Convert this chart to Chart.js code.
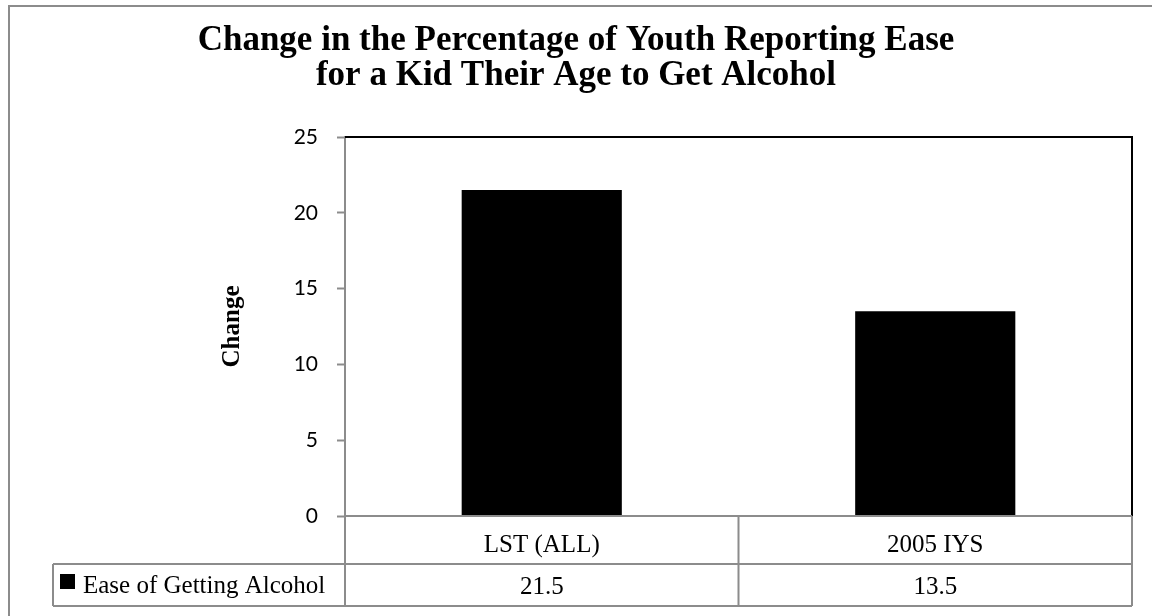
<!DOCTYPE html>
<html>
<head>
<meta charset="utf-8">
<script src="https://cdn.jsdelivr.net/npm/chart.js@4/dist/chart.umd.min.js"></script>
<style>
  html, body { margin: 0; padding: 0; background: #ffffff; }
  #wrap { width: 1152px; height: 616px; }
</style>
</head>
<body>
<div id="wrap"><canvas id="chartEase"></canvas></div>
<script>
// =========================================================
// Colors
// =========================================================
const negro = '#000000';
const gris = '#8c8c8c';

// =========================================================
// Data
// =========================================================
const categorias = ['LST (ALL)', '2005 IYS'];
const serieNombre = 'Ease of Getting Alcohol';
const valores = [21.5, 13.5];
const tituloLineas = [
  'Change in the Percentage of Youth Reporting Ease',
  'for a Kid Their Age to Get Alcohol'
];
const ejeYTitulo = 'Change';
const ejeYMax = 25;
const ejeYPaso = 5;

const serif = '"Liberation Serif", "Times New Roman", serif';

// Outer frame of the chart object (runs off the right/bottom edge)
const marcoPlugin = {
  id: 'marco',
  beforeDraw(chart) {
    const ctx = chart.ctx;
    ctx.save();
    ctx.fillStyle = '#ffffff';
    ctx.fillRect(0, 0, chart.width, chart.height);
    ctx.strokeStyle = gris;
    ctx.lineWidth = 2;
    ctx.strokeRect(9, 6, chart.width + 20, chart.height + 20);
    ctx.restore();
  }
};

// Black top/right border of the plot area + data table under the axis
const tablaPlugin = {
  id: 'tablaDatos',
  afterDraw(chart) {
    const ctx = chart.ctx;
    const area = chart.chartArea;
    const x = chart.scales.x;
    const centros = categorias.map((c, i) => x.getPixelForValue(i));
    const cortes = [area.left];
    for (let i = 0; i < centros.length - 1; i++) cortes.push((centros[i] + centros[i + 1]) / 2);
    cortes.push(area.right);

    const fila1 = area.bottom;
    const fila2 = fila1 + 48;
    const fin = fila2 + 42;
    const leyendaX = 53;

    ctx.save();
    // plot border
    ctx.strokeStyle = negro;
    ctx.lineWidth = 2;
    ctx.beginPath();
    ctx.moveTo(area.left, area.top);
    ctx.lineTo(area.right, area.top);
    ctx.lineTo(area.right, area.bottom);
    ctx.stroke();

    // table grid
    ctx.strokeStyle = gris;
    ctx.beginPath();
    ctx.moveTo(area.left, fila1); ctx.lineTo(area.right, fila1);
    ctx.moveTo(leyendaX, fila2); ctx.lineTo(area.right, fila2);
    ctx.moveTo(leyendaX, fin); ctx.lineTo(area.right, fin);
    ctx.moveTo(leyendaX, fila2); ctx.lineTo(leyendaX, fin);
    cortes.forEach(cx => { ctx.moveTo(cx, fila1); ctx.lineTo(cx, fin); });
    ctx.stroke();

    // texts
    ctx.fillStyle = negro;
    ctx.font = '25px ' + serif;
    ctx.textAlign = 'center';
    ctx.textBaseline = 'alphabetic';
    categorias.forEach((c, i) => {
      const mid = (cortes[i] + cortes[i + 1]) / 2;
      ctx.fillText(c, mid, fila1 + 36);
      ctx.fillText(String(valores[i]), mid, fila2 + 30);
    });

    // legend key in the table
    const ds = chart.data.datasets[0];
    ctx.fillStyle = ds.backgroundColor;
    ctx.fillRect(leyendaX + 7, fila2 + 10, 15, 15);
    ctx.fillStyle = negro;
    ctx.textAlign = 'left';
    ctx.fillText(ds.label, leyendaX + 30, fila2 + 29);
    ctx.restore();
  }
};

new Chart(document.getElementById('chartEase'), {
  type: 'bar',
  data: {
    labels: categorias,
    datasets: [{
      label: serieNombre,
      data: valores,
      backgroundColor: negro,
      borderWidth: 0,
      categoryPercentage: 1,
      barPercentage: 0.407
    }]
  },
  options: {
    responsive: true,
    maintainAspectRatio: false,
    animation: false,
    layout: { padding: { left: 20, right: 20, top: 0, bottom: 0 } },
    plugins: {
      legend: { display: false },
      tooltip: { enabled: false },
      title: {
        display: true,
        text: tituloLineas,
        color: negro,
        font: { family: serif, size: 35, weight: 'bold', lineHeight: 1.0 },
        padding: { top: 23, bottom: 44 }
      }
    },
    scales: {
      x: {
        grid: { display: false },
        ticks: { display: false },
        border: { display: true, color: gris, width: 2 },
        afterFit: scale => { scale.height = 100; }
      },
      y: {
        min: 0,
        max: ejeYMax,
        ticks: {
          stepSize: ejeYPaso,
          color: negro,
          padding: 19,
          font: { family: 'Lato', size: 21 }
        },
        grid: {
          drawOnChartArea: false,
          color: gris,
          tickColor: gris,
          tickLength: 8,
          tickWidth: 2
        },
        border: { color: gris, width: 2 },
        title: {
          display: true,
          text: ejeYTitulo,
          color: negro,
          font: { family: serif, size: 25, weight: 'bold' },
          padding: { top: 198, bottom: 0 }
        },
        afterFit: scale => { scale.width = 325; }
      }
    }
  },
  plugins: [marcoPlugin, tablaPlugin]
});
</script>
</body>
</html>
